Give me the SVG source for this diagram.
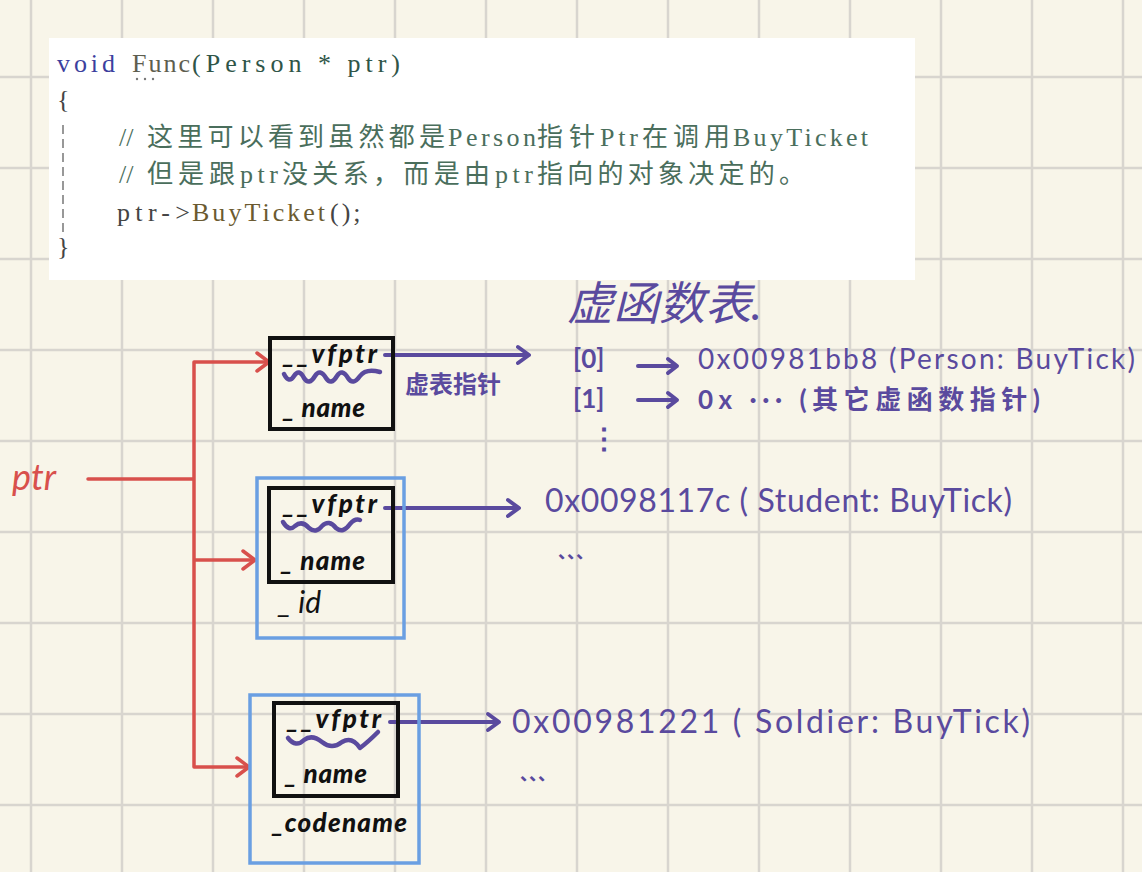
<svg xmlns="http://www.w3.org/2000/svg" width="1142" height="872" viewBox="0 0 1142 872">
<defs>
<style>
.grid line{stroke:#d8d5cf;stroke-width:2.5}
.code{font-family:"Liberation Serif","Noto Sans CJK SC",serif;font-size:26px}
.hw{font-family:"Lato","Noto Sans CJK SC",sans-serif;font-style:italic;font-weight:900;fill:#111}
.pu{font-family:"Lato","Noto Sans CJK SC",sans-serif;fill:#5a4a9e}
.red{stroke:#d8504c;stroke-width:3.5;fill:none;stroke-linecap:round;stroke-linejoin:round}
.pl{stroke:#5a4a9e;stroke-width:4;fill:none;stroke-linecap:round;stroke-linejoin:round}
.box{fill:none;stroke:#111;stroke-width:4}
.outer{fill:none;stroke:#6a9fe2;stroke-width:3.5}
.sq{fill:none;stroke:#5a4a9e;stroke-width:4.5;stroke-linecap:round;stroke-linejoin:round}
</style>
</defs>
<rect x="0" y="0" width="1142" height="872" fill="#f8f5e9"/>
<g class="grid">
<line x1="31" y1="0" x2="31" y2="872"/><line x1="122" y1="0" x2="122" y2="872"/><line x1="213" y1="0" x2="213" y2="872"/><line x1="304" y1="0" x2="304" y2="872"/><line x1="395" y1="0" x2="395" y2="872"/><line x1="486" y1="0" x2="486" y2="872"/><line x1="577" y1="0" x2="577" y2="872"/><line x1="668" y1="0" x2="668" y2="872"/><line x1="759" y1="0" x2="759" y2="872"/><line x1="850" y1="0" x2="850" y2="872"/><line x1="941" y1="0" x2="941" y2="872"/><line x1="1032" y1="0" x2="1032" y2="872"/><line x1="1123" y1="0" x2="1123" y2="872"/>
<line x1="0" y1="77" x2="1142" y2="77"/><line x1="0" y1="168" x2="1142" y2="168"/><line x1="0" y1="259" x2="1142" y2="259"/><line x1="0" y1="350" x2="1142" y2="350"/><line x1="0" y1="441" x2="1142" y2="441"/><line x1="0" y1="532" x2="1142" y2="532"/><line x1="0" y1="623" x2="1142" y2="623"/><line x1="0" y1="714" x2="1142" y2="714"/><line x1="0" y1="805" x2="1142" y2="805"/>
</g>
<g id="code">
<rect x="49" y="38" width="866" height="242" fill="#ffffff"/>
<text class="code" y="72"><tspan x="57" fill="#3c3f9e" textLength="58">void</tspan><tspan x="132" fill="#5e5e50" textLength="58">Func</tspan><tspan x="192" fill="#2f5548" textLength="208">(Person * ptr)</tspan></text>
<circle cx="137" cy="79" r="1.2" fill="#777"/><circle cx="145" cy="79" r="1.2" fill="#777"/><circle cx="153" cy="79" r="1.2" fill="#777"/>
<text class="code" x="57" y="108" fill="#444">{</text>
<line x1="63" y1="125" x2="63" y2="232" stroke="#777" stroke-width="1.5" stroke-dasharray="9 5"/>
<text class="code" y="146" fill="#4a6e5c"><tspan x="119">//</tspan><tspan x="147" textLength="298">这里可以看到虽然都是</tspan><tspan x="448" textLength="88">Person</tspan><tspan x="537" textLength="58">指针</tspan><tspan x="600" textLength="38">Ptr</tspan><tspan x="642" textLength="88">在调用</tspan><tspan x="733" textLength="135">BuyTicket</tspan></text>
<text class="code" y="183" fill="#4a6e5c"><tspan x="119">//</tspan><tspan x="147" textLength="88">但是跟</tspan><tspan x="240" textLength="38">ptr</tspan><tspan x="282" textLength="208">没关系，而是由</tspan><tspan x="495" textLength="38">ptr</tspan><tspan x="537" textLength="268">指向的对象决定的。</tspan></text>
<text class="code" y="221"><tspan x="117" fill="#444" textLength="73">ptr-&gt;</tspan><tspan x="192" fill="#6b5a30" textLength="133">BuyTicket</tspan><tspan x="330" fill="#444" letter-spacing="3">();</tspan></text>
<text class="code" x="57" y="255" fill="#444">}</text>
</g>
<g id="ptr-label">
<text x="12" y="490" font-family="Lato,sans-serif" font-style="italic" font-size="36" fill="#d8504c">ptr</text>
</g>
<g id="connectors">
<path class="red" d="M88 479 H194 M194 362 V767 M194 362 H268 M194 560 H254 M194 767 H248"/>
<path class="red" d="M257 353 L269 362 L257 371 M243 551 L255 560 L243 569 M237 758 L249 767 L237 776"/>
<path class="pl" d="M385 355 H528 M518 347 L529 355 L518 363"/>
<path class="pl" d="M385 508 H518 M508 500 L519 508 L508 516"/>
<path class="pl" d="M390 722 H498 M488 714 L499 722 L488 730"/>
</g>
<g id="person">
<rect class="box" x="270" y="338" width="123" height="91"/>
<text class="hw" x="283" y="363" font-size="26" textLength="94">__vfptr</text>
<path class="sq" d="M284 374 Q289 384 294 376 Q299 368 304 378 Q309 386 315 376 Q320 368 326 378 Q331 386 337 376 Q342 368 348 378 Q353 386 360 376 Q366 368 380 372"/>
<text class="hw" x="283" y="417" font-size="26" textLength="82">_ name</text>
</g>
<g id="student">
<rect class="outer" x="257" y="478" width="147" height="160"/>
<rect class="box" x="269" y="488" width="124" height="94"/>
<text class="hw" x="283" y="513" font-size="26" textLength="94">__vfptr</text>
<path class="sq" d="M283 522 Q289 532 295 526 Q302 520 309 528 Q316 534 322 526 Q329 519 336 528 Q343 534 350 524 Q355 518 360 520"/>
<text class="hw" x="281" y="570" font-size="26" textLength="84">_ name</text>
<text x="278" y="613" font-family="Lato,sans-serif" font-style="italic" font-size="30" fill="#111">_ id</text>
</g>
<g id="soldier">
<rect class="outer" x="250" y="695" width="169" height="168"/>
<rect class="box" x="274" y="703" width="124" height="93"/>
<text class="hw" x="287" y="728" font-size="26" textLength="94">__vfptr</text>
<path class="sq" d="M288 738 Q296 748 304 740 Q312 734 322 742 Q332 750 342 742 Q352 736 360 748 Q368 742 378 732"/>
<text class="hw" x="285" y="783" font-size="26" textLength="82">_ name</text>
<text class="hw" x="272" y="832" font-size="26" textLength="135">_codename</text>
</g>
<g id="vtable">
<text class="pu" x="405" y="393" font-size="24" font-weight="700">虚表指针</text>
<text class="pu" x="567" y="320" font-size="46" font-style="italic">虚函数表.</text>
<text class="pu" x="573" y="368" font-size="26" font-weight="700">[0]</text>
<path class="pl" d="M638 366 H676 M668 359 L677 366 L668 373"/>
<text class="pu" x="698" y="369" font-size="28" textLength="437">0x00981bb8 (Person: BuyTick)</text>
<text class="pu" x="573" y="408" font-size="26" font-weight="700">[1]</text>
<path class="pl" d="M638 400 H676 M668 393 L677 400 L668 407"/>
<text class="pu" x="698" y="409" font-size="26" font-weight="700" textLength="342">0x ··· (其它虚函数指针)</text>
<text class="pu" x="590" y="448" font-size="28" font-weight="700">⋮</text>
</g>
<g id="student-vtable">
<text class="pu" x="545" y="512" font-size="32" textLength="467">0x0098117c ( Student: BuyTick)</text>
<text class="pu" x="558" y="558" font-size="18" font-weight="700">、、、</text>
</g>
<g id="soldier-vtable">
<text class="pu" x="512" y="733" font-size="32" textLength="518">0x00981221 ( Soldier: BuyTick)</text>
<text class="pu" x="520" y="780" font-size="18" font-weight="700">、、、</text>
</g>
</svg>
